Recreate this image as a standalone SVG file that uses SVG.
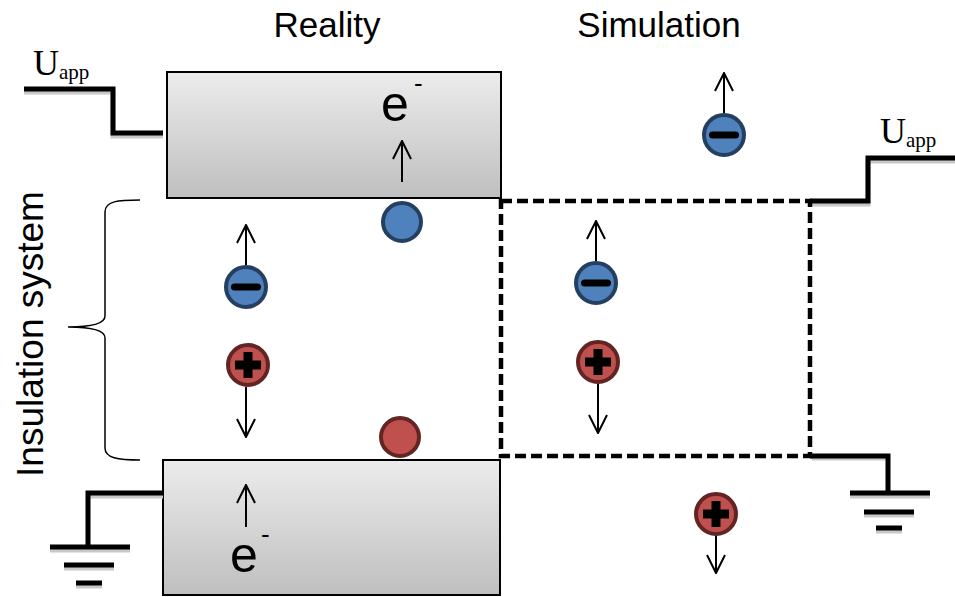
<svg xmlns="http://www.w3.org/2000/svg" width="955" height="597" viewBox="0 0 955 597">
<defs>
<linearGradient id="plate" x1="0" y1="0" x2="0" y2="1">
<stop offset="0" stop-color="#ececec"/>
<stop offset="1" stop-color="#bfbfbf"/>
</linearGradient>
<marker id="ah" viewBox="0 0 20 20" refX="19" refY="10" markerWidth="20" markerHeight="20" markerUnits="userSpaceOnUse" orient="auto">
<path d="M1 1 L19 10 L1 19" fill="none" stroke="#000" stroke-width="2"/>
</marker>
</defs>
<style>
.sans{font-family:"Liberation Sans",Arial,sans-serif;fill:#000}
.serif{font-family:"Liberation Serif","Times New Roman",serif;fill:#000}
.wire{fill:none;stroke:#000;stroke-width:5;stroke-linejoin:miter}
.shadow{fill:none;stroke:#c8c8c8;stroke-width:5}
.plate{fill:url(#plate);stroke:#000;stroke-width:2}
.neg{fill:#4f81bd;stroke:#243f60;stroke-width:4}
.pos{fill:#c0504d;stroke:#632523;stroke-width:4}
.arr{fill:none;stroke:#000;stroke-width:2}
</style>
<rect width="955" height="597" fill="#fff"/>

<g id="titles">
<text class="sans" x="327" y="37" font-size="35" text-anchor="middle">Reality</text>
<text class="sans" x="659" y="37" font-size="35" text-anchor="middle">Simulation</text>
</g>

<g id="insulation-label">
<text class="sans" font-size="37" text-anchor="middle" transform="translate(43,334) rotate(-90)">Insulation system</text>
<path d="M140 200 C118 200 105 201 105 212 L105 316 C105 324 90 327 68 327 C90 327 105 330 105 338 L105 448 C105 458 118 460 140 460" fill="none" stroke="#000" stroke-width="1.5"/>
</g>

<g id="top-electrode">
<rect class="plate" x="167" y="72" width="334" height="126"/>
<text class="sans" x="381" y="121" font-size="50">e</text>
<text class="sans" x="414" y="92" font-size="26">-</text>
</g>

<g id="bottom-electrode">
<rect class="plate" x="163" y="460" width="337" height="135"/>
<text class="sans" x="230" y="572" font-size="50">e</text>
<text class="sans" x="261" y="543" font-size="26">-</text>
</g>

<g id="connectors">
<path class="shadow" d="M24 92 L113 92 L113 136 L163 136"/>
<path class="wire" d="M24 89 L113 89 L113 133 L163 133"/>
<path class="shadow" d="M163 496 L88 496 M50 550 L130 550 M64 568 L114 568 M76 586 L102 586"/>
<path class="wire" d="M163 493 L88 493 L88 547 M50 547 L130 547 M64 565 L114 565 M76 583 L102 583"/>
<path class="shadow" d="M812 204 L868 204 L868 161 L955 161"/>
<path class="wire" d="M810 201 L868 201 L868 158 L955 158"/>
<path class="shadow" d="M812 458 L888 458 M850 496 L930 496 M864 515 L914 515 M876 531 L902 531"/>
<path class="wire" d="M810 456 L888 456 L888 493 M850 493 L930 493 M864 512 L914 512 M876 528 L902 528"/>
<rect x="501" y="201" width="309" height="255" fill="none" stroke="#000" stroke-width="4.5" stroke-dasharray="11 5"/>
<line class="arr" x1="402" y1="182" x2="402" y2="141" marker-end="url(#ah)"/>
<line class="arr" x1="246" y1="527" x2="246" y2="485" marker-end="url(#ah)"/>
<line class="arr" x1="246" y1="265" x2="246" y2="225" marker-end="url(#ah)"/>
<line class="arr" x1="246" y1="387" x2="246" y2="437" marker-end="url(#ah)"/>
<line class="arr" x1="596" y1="261" x2="596" y2="221" marker-end="url(#ah)"/>
<line class="arr" x1="598" y1="384" x2="598" y2="433" marker-end="url(#ah)"/>
<line class="arr" x1="724" y1="113" x2="724" y2="73" marker-end="url(#ah)"/>
<line class="arr" x1="716" y1="535" x2="716" y2="573" marker-end="url(#ah)"/>
</g>

<g id="electron-top"><circle class="neg" cx="402" cy="222" r="19"/></g>
<g id="hole-bottom"><circle class="pos" cx="400" cy="437" r="19"/></g>

<g id="ion-neg-reality">
<circle class="neg" cx="246" cy="287" r="20"/>
<rect x="231" y="283.5" width="30" height="7" rx="3.5" fill="#000"/>
</g>
<g id="ion-pos-reality">
<circle class="pos" cx="248" cy="365" r="20"/>
<path d="M243.5 352 h9 v8.5 h8.5 v9 h-8.5 v8.5 h-9 v-8.5 h-8.5 v-9 h8.5 z" fill="#000"/>
</g>
<g id="ion-neg-sim">
<circle class="neg" cx="596" cy="283" r="20"/>
<rect x="581" y="279.5" width="30" height="7" rx="3.5" fill="#000"/>
</g>
<g id="ion-pos-sim">
<circle class="pos" cx="598" cy="362" r="20"/>
<path d="M593.5 349 h9 v8.5 h8.5 v9 h-8.5 v8.5 h-9 v-8.5 h-8.5 v-9 h8.5 z" fill="#000"/>
</g>
<g id="ion-neg-out">
<circle class="neg" cx="724" cy="135" r="20"/>
<rect x="709" y="131.5" width="30" height="7" rx="3.5" fill="#000"/>
</g>
<g id="ion-pos-out">
<circle class="pos" cx="716" cy="514" r="20"/>
<path d="M711.5 501 h9 v8.5 h8.5 v9 h-8.5 v8.5 h-9 v-8.5 h-8.5 v-9 h8.5 z" fill="#000"/>
</g>

<g id="uapp-left">
<text class="serif" x="33" y="75" font-size="36">U<tspan font-size="21" dy="4">app</tspan></text>
</g>
<g id="uapp-right">
<text class="serif" x="880" y="143" font-size="36">U<tspan font-size="21" dy="4">app</tspan></text>
</g>
</svg>
